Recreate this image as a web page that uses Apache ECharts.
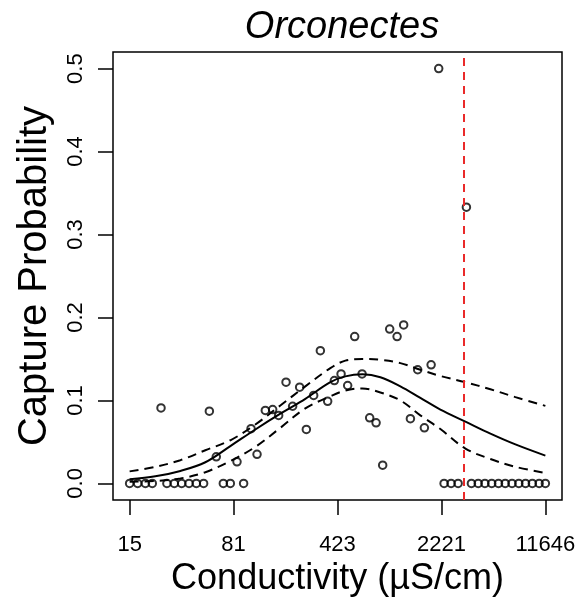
<!DOCTYPE html>
<html>
<head>
<meta charset="utf-8">
<script src="https://cdn.jsdelivr.net/npm/echarts@6/dist/echarts.min.js"></script>
<style>
html,body{margin:0;padding:0;background:#fff;}
#chart{width:582px;height:602px;}
</style>
</head>
<body>
<div id="chart"></div>
<script>
// Observed capture probabilities (conductivity in µS/cm)
const condVals = [15.4, 17.5, 19.8, 22.1, 25.4, 27.9, 31.4, 35.3, 39.7, 44.6, 50.1, 54.9, 61.3, 68.6, 76.7, 85.3, 94.8, 106.7, 117.4, 134.0, 150.6, 165.7, 186.4, 207.1, 231.6, 257.7, 289.6, 322.2, 362.0, 402.8, 448.3, 498.0, 556.9, 626.6, 707.3, 783.4, 870.3, 973.1, 1095, 1216, 1354, 1521, 1692, 1884, 2126, 2317, 2591, 2897, 3307, 3582, 3992, 4442, 4951, 5515, 6139, 6843, 7626, 8487, 9459, 10542, 11646];
const probVals = [0, 0, 0, 0, 0.091, 0, 0, 0, 0, 0, 0, 0.087, 0.032, 0, 0, 0.026, 0, 0.066, 0.035, 0.088, 0.089, 0.082, 0.122, 0.093, 0.116, 0.065, 0.106, 0.160, 0.099, 0.124, 0.132, 0.118, 0.177, 0.132, 0.079, 0.073, 0.022, 0.186, 0.177, 0.191, 0.078, 0.137, 0.067, 0.143, 0.5, 0, 0, 0, 0.333, 0, 0, 0, 0, 0, 0, 0, 0, 0, 0, 0, 0];

// Fitted curve and confidence band
const curveCond = [15.4, 23.2, 34.6, 51.5, 76.7, 114.3, 170.3, 253.6, 377.9, 480, 629.6, 839, 1154, 1587, 2184, 3255, 4850, 7223, 11646];
const fitVals   = [0.005, 0.0085, 0.015, 0.0255, 0.045, 0.065, 0.084, 0.102, 0.122, 0.129, 0.1315, 0.128, 0.117, 0.103, 0.089, 0.0745, 0.060, 0.047, 0.0335];
const upperVals = [0.0145, 0.020, 0.028, 0.040, 0.052, 0.071, 0.094, 0.117, 0.139, 0.148, 0.150, 0.149, 0.145, 0.137, 0.1295, 0.122, 0.1135, 0.104, 0.0935];
const lowerVals = [0.002, 0.003, 0.006, 0.0135, 0.027, 0.044, 0.067, 0.0905, 0.105, 0.112, 0.1145, 0.1096, 0.100, 0.082, 0.0655, 0.042, 0.0294, 0.020, 0.0126];

// Threshold (red dashed line)
const thresholdCond = 3177;

// Axis ticks
const xTickCond = [15.4, 80.7, 423.4, 2220.5, 11646];
const xTickLabels = ['15', '81', '423', '2221', '11646'];
const yTickVals = [0, 0.1, 0.2, 0.3, 0.4, 0.5];
const yTickLabels = ['0.0', '0.1', '0.2', '0.3', '0.4', '0.5'];

const L = Math.log;
const lnMin = L(Math.min(...condVals)), lnMax = L(Math.max(...condVals));
const ext = 0.04 * (lnMax - lnMin);
const xTicks = xTickCond.map(L);

const font = '"Liberation Sans", Arial, Helvetica, sans-serif';
const chart = echarts.init(document.getElementById('chart'), null, {renderer: 'canvas'});

function nearestLabel(ticks, labels) {
  return function (v) {
    let bi = 0;
    ticks.forEach((t, i) => { if (Math.abs(t - v) < Math.abs(ticks[bi] - v)) bi = i; });
    return labels[bi];
  };
}

chart.setOption({
  animation: false,
  backgroundColor: '#fff',
  title: {
    text: 'Orconectes',
    left: 337, top: 3, textAlign: 'center',
    textStyle: {fontFamily: font, fontSize: 38, fontStyle: 'italic', fontWeight: 'normal', color: '#000'}
  },
  grid: {left: 113, right: 20, top: 52, bottom: 102, show: true, borderColor: '#000', borderWidth: 1.5, backgroundColor: 'transparent'},
  xAxis: {
    type: 'value',
    min: lnMin - ext, max: lnMax + ext,
    axisLine: {show: false, onZero: false},
    splitLine: {show: false},
    axisTick: {show: true, inside: false, length: 15, lineStyle: {color: '#000', width: 1.5}, customValues: xTicks},
    axisLabel: {
      customValues: xTicks, margin: 34, fontSize: 22, color: '#000', fontFamily: font,
      formatter: nearestLabel(xTicks, xTickLabels)
    },
    name: 'Conductivity (µS/cm)', nameLocation: 'middle', nameGap: 61,
    nameTextStyle: {fontFamily: font, fontSize: 36, color: '#000'}
  },
  yAxis: {
    type: 'value',
    min: -0.02, max: 0.52,
    axisLine: {show: false, onZero: false},
    splitLine: {show: false},
    axisTick: {show: true, inside: false, length: 15, lineStyle: {color: '#000', width: 1.5}, customValues: yTickVals},
    axisLabel: {
      customValues: yTickVals, rotate: 90, margin: 26, fontSize: 22, color: '#000', fontFamily: font,
      formatter: nearestLabel(yTickVals, yTickLabels)
    },
    name: 'Capture Probability', nameLocation: 'middle', nameGap: 58,
    nameTextStyle: {fontFamily: font, fontSize: 40, color: '#000'}
  },
  series: [
    {
      type: 'scatter',
      data: condVals.map((c, i) => [L(c), probVals[i]]),
      symbol: 'circle', symbolSize: 7.5,
      itemStyle: {color: 'rgba(0,0,0,0)', borderColor: '#000', borderWidth: 2},
      silent: true, z: 3
    },
    {
      type: 'line',
      data: curveCond.map((c, i) => [L(c), fitVals[i]]),
      smooth: 0.35, showSymbol: false, silent: true,
      lineStyle: {color: '#000', width: 2}, z: 4
    },
    {
      type: 'line',
      data: curveCond.map((c, i) => [L(c), upperVals[i]]),
      smooth: 0.35, showSymbol: false, silent: true,
      lineStyle: {color: '#000', width: 2, type: [9, 6]}, z: 4
    },
    {
      type: 'line',
      data: curveCond.map((c, i) => [L(c), lowerVals[i]]),
      smooth: 0.35, showSymbol: false, silent: true,
      lineStyle: {color: '#000', width: 2, type: [9, 6]}, z: 4,
      markLine: {
        silent: true, symbol: ['none', 'none'], animation: false,
        label: {show: false},
        lineStyle: {color: '#ea2a2a', width: 2, type: [8, 6]},
        data: [{xAxis: L(thresholdCond)}]
      }
    }
  ]
});
</script>
</body>
</html>
